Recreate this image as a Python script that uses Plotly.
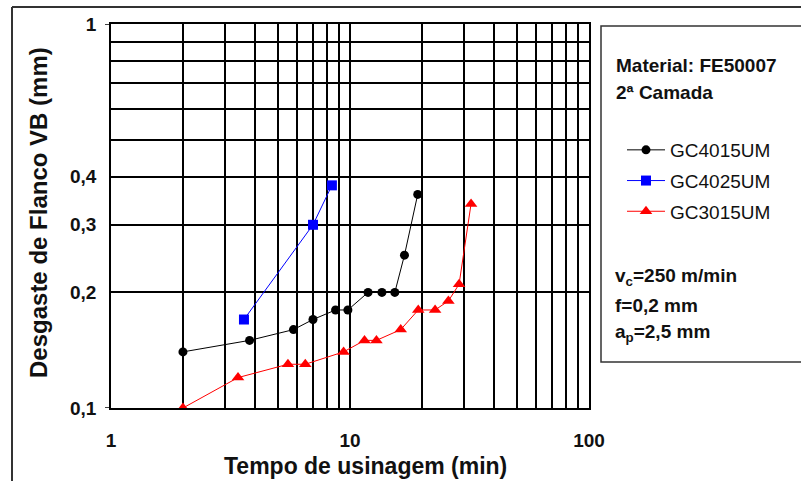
import plotly.graph_objects as go

# ---- data ----
gc4015_t = [2, 3.8, 5.8, 7.0, 8.7, 9.8, 11.9, 13.6, 15.4, 16.9, 19.2]
gc4015_vb = [0.14, 0.15, 0.16, 0.17, 0.18, 0.18, 0.20, 0.20, 0.20, 0.25, 0.36]

gc4025_t = [3.6, 7.0, 8.4]
gc4025_vb = [0.17, 0.30, 0.38]

gc3015_t = [2, 3.4, 5.5, 6.5, 9.4, 11.5, 12.9, 16.3, 19.3, 22.7, 25.8, 28.6, 32.1]
gc3015_vb = [0.10, 0.12, 0.13, 0.13, 0.14, 0.15, 0.15, 0.16, 0.18, 0.18, 0.19, 0.21, 0.34]

x_grid = [1, 2, 3, 4, 5, 6, 7, 8, 9, 10, 20, 30, 40, 50, 60, 70, 80, 90, 100]
x_labels = {1: "1", 10: "10", 100: "100"}
y_grid = [0.1, 0.2, 0.3, 0.4, 0.5, 0.6, 0.7, 0.8, 0.9, 1.0]
y_labels = {0.1: "0,1", 0.2: "0,2", 0.3: "0,3", 0.4: "0,4", 1.0: "1"}

# ---- geometry ----
W, H = 801, 481
L, R, T, B = 111, 589, 24, 408
pw, ph = R - L, B - T


def px(x):
    return (x - L) / pw


def py(y):
    return (B - y) / ph


FONT = "Liberation Sans, Arial, sans-serif"

fig = go.Figure()
fig.add_trace(go.Scatter(x=gc4015_t, y=gc4015_vb, name="GC4015UM", mode="lines+markers",
                         line=dict(color="black", width=1),
                         marker=dict(symbol="circle", size=9, color="black"), legendgroup="a"))
fig.add_trace(go.Scatter(x=gc4025_t, y=gc4025_vb, name="GC4025UM", mode="lines+markers",
                         line=dict(color="#0000FF", width=1),
                         marker=dict(symbol="square", size=10, color="#0000FF"), legendgroup="b"))
fig.add_trace(go.Scatter(x=gc3015_t, y=gc3015_vb, name="GC3015UM", mode="lines+markers",
                         line=dict(color="#FF0000", width=1),
                         marker=dict(symbol="triangle-up", size=11, color="#FF0000"), legendgroup="c"))

shapes = []
# outer frame
shapes.append(dict(type="line", xref="paper", yref="paper", x0=px(12), x1=px(805), y0=py(7), y1=py(7),
                   line=dict(color="#333", width=2)))
shapes.append(dict(type="line", xref="paper", yref="paper", x0=px(12), x1=px(12), y0=py(7), y1=py(485),
                   line=dict(color="#333", width=2)))
# info box
shapes.append(dict(type="rect", xref="paper", yref="paper", x0=px(601), x1=px(806), y0=py(26), y1=py(362),
                   line=dict(color="#333", width=1.5)))
# tick marks at decades
for yv in (0.1, 1.0):
    shapes.append(dict(type="line", xref="paper", yref="y", x0=px(105), x1=0, y0=yv, y1=yv,
                       line=dict(color="black", width=1.5)))

annotations = []
anno_font = dict(family=FONT, size=19, color="#111")
for txt, ypos, xpos in [("<b>Material: FE50007</b>", 65, 614), ("<b>2ª Camada</b>", 92, 614),
                        ("<b>v<sub>c</sub>=250 m/min</b>", 277, 613), ("<b>f=0,2 mm</b>", 305, 613),
                        ("<b>a<sub>p</sub>=2,5 mm</b>", 333, 613)]:
    annotations.append(dict(text=txt, xref="paper", yref="paper", x=px(xpos), y=py(ypos),
                            xanchor="left", yanchor="middle", showarrow=False, font=anno_font))
annotations.append(dict(text="<b>Desgaste de Flanco VB (mm)</b>", xref="paper", yref="paper",
                        x=px(38), y=py(213), textangle=-90, xanchor="center", yanchor="middle",
                        showarrow=False, font=dict(family=FONT, size=24, color="#111")))
annotations.append(dict(text="<b>Tempo de usinagem (min)</b>", xref="paper", yref="paper",
                        x=px(365), y=py(466), xanchor="center", yanchor="middle",
                        showarrow=False, font=dict(family=FONT, size=23, color="#111")))

fig.update_layout(
    width=W, height=H,
    margin=dict(l=L, r=W - R, t=T, b=H - B, pad=0),
    paper_bgcolor="white", plot_bgcolor="white",
    showlegend=True,
    legend=dict(x=px(622), y=py(131), xanchor="left", yanchor="top",
                font=dict(family=FONT, size=19, color="#111"),
                bgcolor="rgba(0,0,0,0)", borderwidth=0, itemwidth=38,
                tracegroupgap=3),
    shapes=shapes, annotations=annotations,
)
fig.update_xaxes(type="log", range=[0, 2], tickmode="array", tickvals=x_grid,
                 ticktext=[x_labels.get(v, "") for v in x_grid],
                 showgrid=True, gridcolor="black", gridwidth=1.5,
                 showline=True, linecolor="black", linewidth=1.5, mirror=True,
                 ticks="", ticklabelstandoff=14,
                 tickfont=dict(family=FONT, size=19, color="#111", weight="bold"), zeroline=False)
fig.update_yaxes(type="log", range=[-1, 0], tickmode="array", tickvals=y_grid,
                 ticktext=[y_labels.get(v, "") for v in y_grid],
                 showgrid=True, gridcolor="black", gridwidth=1.5,
                 showline=True, linecolor="black", linewidth=1.5, mirror=True,
                 ticks="", ticklabelstandoff=9,
                 tickfont=dict(family=FONT, size=19, color="#111", weight="bold"), zeroline=False)

fig.write_html("out.html")
